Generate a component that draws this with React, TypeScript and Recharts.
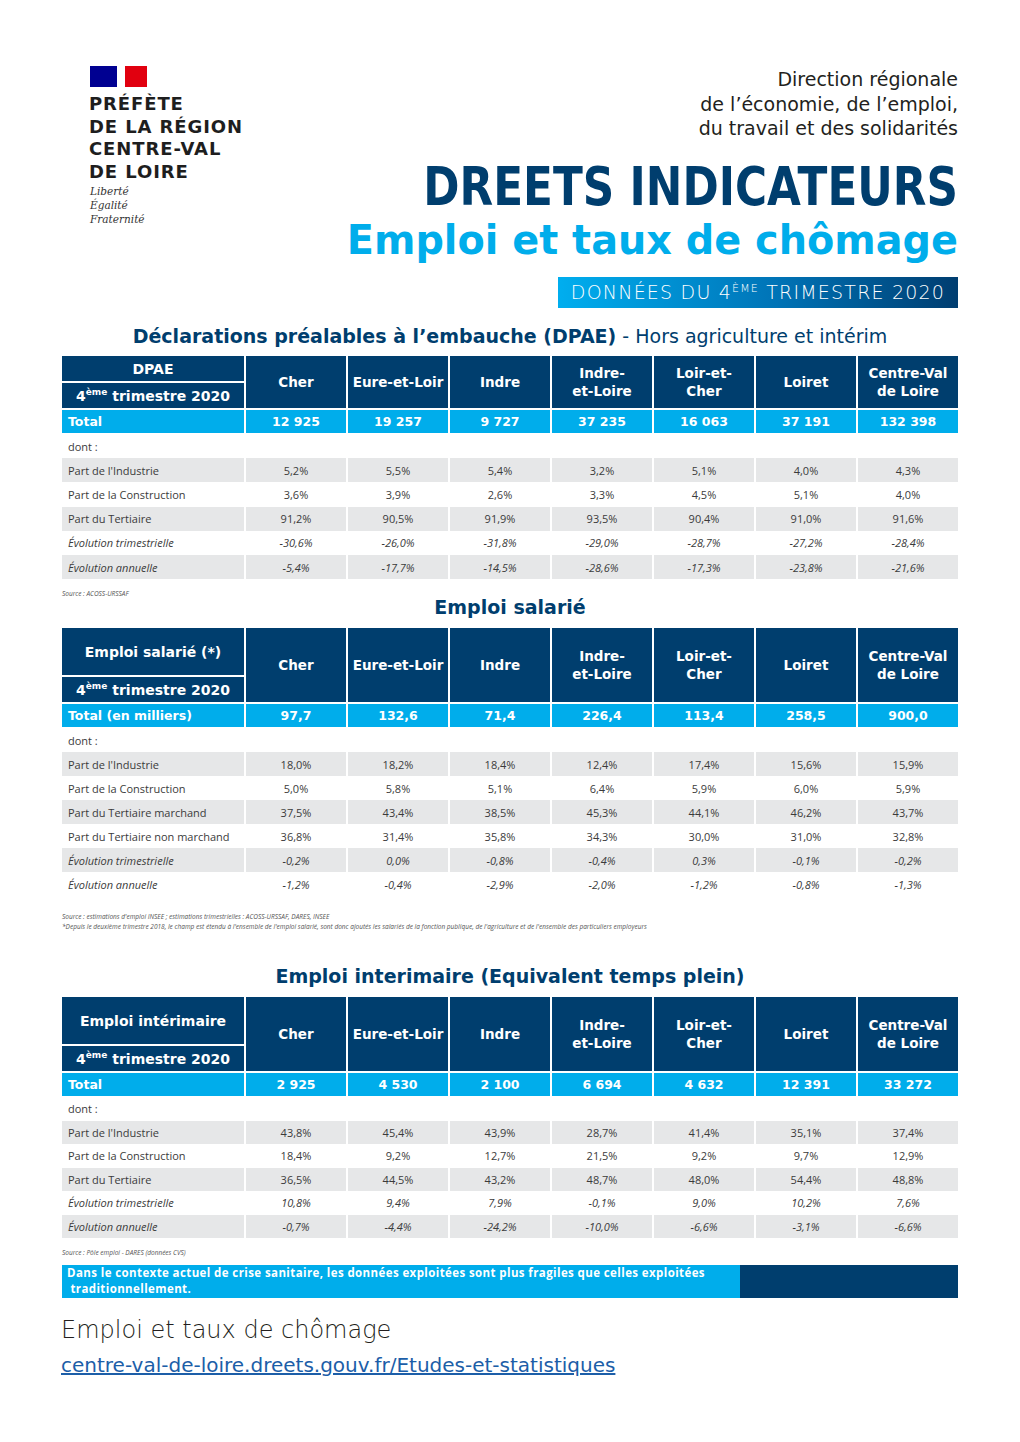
import { Surface, Rectangle } from "recharts";

// Départements (colonnes)
const departements = [
  "Cher",
  "Eure-et-Loir",
  "Indre",
  "Indre-\net-Loire",
  "Loir-et-\nCher",
  "Loiret",
  "Centre-Val\nde Loire",
];

// DPAE
const dpaeTotal = ["12 925", "19 257", "9 727", "37 235", "16 063", "37 191", "132 398"];
const dpaeIndustrie = ["5,2%", "5,5%", "5,4%", "3,2%", "5,1%", "4,0%", "4,3%"];
const dpaeConstruction = ["3,6%", "3,9%", "2,6%", "3,3%", "4,5%", "5,1%", "4,0%"];
const dpaeTertiaire = ["91,2%", "90,5%", "91,9%", "93,5%", "90,4%", "91,0%", "91,6%"];
const dpaeEvolTrim = ["-30,6%", "-26,0%", "-31,8%", "-29,0%", "-28,7%", "-27,2%", "-28,4%"];
const dpaeEvolAnn = ["-5,4%", "-17,7%", "-14,5%", "-28,6%", "-17,3%", "-23,8%", "-21,6%"];

// Emploi salarié
const salTotal = ["97,7", "132,6", "71,4", "226,4", "113,4", "258,5", "900,0"];
const salIndustrie = ["18,0%", "18,2%", "18,4%", "12,4%", "17,4%", "15,6%", "15,9%"];
const salConstruction = ["5,0%", "5,8%", "5,1%", "6,4%", "5,9%", "6,0%", "5,9%"];
const salTertMarchand = ["37,5%", "43,4%", "38,5%", "45,3%", "44,1%", "46,2%", "43,7%"];
const salTertNonMarchand = ["36,8%", "31,4%", "35,8%", "34,3%", "30,0%", "31,0%", "32,8%"];
const salEvolTrim = ["-0,2%", "0,0%", "-0,8%", "-0,4%", "0,3%", "-0,1%", "-0,2%"];
const salEvolAnn = ["-1,2%", "-0,4%", "-2,9%", "-2,0%", "-1,2%", "-0,8%", "-1,3%"];

// Emploi intérimaire
const intTotal = ["2 925", "4 530", "2 100", "6 694", "4 632", "12 391", "33 272"];
const intIndustrie = ["43,8%", "45,4%", "43,9%", "28,7%", "41,4%", "35,1%", "37,4%"];
const intConstruction = ["18,4%", "9,2%", "12,7%", "21,5%", "9,2%", "9,7%", "12,9%"];
const intTertiaire = ["36,5%", "44,5%", "43,2%", "48,7%", "48,0%", "54,4%", "48,8%"];
const intEvolTrim = ["10,8%", "9,4%", "7,9%", "-0,1%", "9,0%", "10,2%", "7,6%"];
const intEvolAnn = ["-0,7%", "-4,4%", "-24,2%", "-10,0%", "-6,6%", "-3,1%", "-6,6%"];

const logoLines = ["PRÉFÈTE", "DE LA RÉGION", "CENTRE-VAL", "DE LOIRE"];
const deviseLines = ["Liberté", "Égalité", "Fraternité"];
const directionLines = [
  "Direction régionale",
  "de l’économie, de l’emploi,",
  "du travail et des solidarités",
];
const avertissement = [
  "Dans le contexte actuel de crise sanitaire, les données exploitées sont plus fragiles que celles exploitées",
  " traditionnellement.",
];

const NAVY = "#003e6e";
const CYAN = "#00adeb";
const GREY = "#e6e7e8";
const TXT = "#3b3b3b";
const HEAD_FONT = "'DejaVu Sans', sans-serif";
const BODY_FONT = "'Open Sans', sans-serif";

const LEFT = 62;
const LABEL_W = 182;
const COL_W = 100;
const GAP = 2;

type Row = { label: string; values?: string[]; italic?: boolean };

function colX(i: number) {
  return LABEL_W + GAP + i * (COL_W + GAP);
}

function Tableau(props: {
  top: number;
  title: string;
  titleH: number;
  headerH: number;
  totalLabel: string;
  totals: string[];
  rows: Row[];
  rowH: number;
}) {
  const { top, title, titleH, headerH, totalLabel, totals, rows, rowH } = props;
  const totalTop = headerH + GAP;
  const rowsTop = totalTop + 24;
  const cell: React.CSSProperties = {
    position: "absolute",
    display: "flex",
    alignItems: "center",
    justifyContent: "center",
    boxSizing: "border-box",
  };
  const headText: React.CSSProperties = {
    background: NAVY,
    color: "#fff",
    fontFamily: HEAD_FONT,
    fontWeight: 700,
    fontSize: 14,
  };
  return (
    <div style={{ position: "absolute", left: LEFT, top, width: 896 }}>
      {/* en-tête gauche */}
      <div style={{ ...cell, ...headText, left: 0, top: 0, width: LABEL_W, height: titleH }}>{title}</div>
      <div
        style={{
          ...cell,
          ...headText,
          left: 0,
          top: titleH + GAP,
          width: LABEL_W,
          height: headerH - titleH - GAP,
        }}
      >
        <span>
          4<sup style={{ fontSize: 9 }}>ème</sup> trimestre 2020
        </span>
      </div>
      {departements.map((d, i) => (
        <div
          key={d}
          style={{
            ...cell,
            ...headText,
            left: colX(i),
            top: 0,
            width: COL_W,
            height: headerH,
            fontSize: 13.5,
            lineHeight: "18px",
            textAlign: "center",
            whiteSpace: "pre-line",
          }}
        >
          {d}
        </div>
      ))}
      {/* ligne total */}
      <div
        style={{
          ...cell,
          justifyContent: "flex-start",
          paddingLeft: 6,
          left: 0,
          top: totalTop,
          width: LABEL_W,
          height: 23,
          background: CYAN,
          color: "#fff",
          fontFamily: HEAD_FONT,
          fontWeight: 700,
          fontSize: 12.5,
        }}
      >
        {totalLabel}
      </div>
      {totals.map((v, i) => (
        <div
          key={"t" + i}
          style={{
            ...cell,
            left: colX(i),
            top: totalTop,
            width: COL_W,
            height: 23,
            background: CYAN,
            color: "#fff",
            fontFamily: HEAD_FONT,
            fontWeight: 700,
            fontSize: 12.5,
          }}
        >
          {v}
        </div>
      ))}
      {/* lignes détail */}
      {rows.map((r, k) => {
        const y = rowsTop + k * rowH;
        const bg = k % 2 === 1 ? GREY : "#fff";
        const font: React.CSSProperties = {
          fontFamily: BODY_FONT,
          fontSize: 11,
          color: TXT,
          fontStyle: r.italic ? "italic" : "normal",
        };
        return (
          <div key={r.label}>
            <div
              style={{
                ...cell,
                ...font,
                justifyContent: "flex-start",
                paddingLeft: 6,
                left: 0,
                top: y,
                width: LABEL_W,
                height: rowH,
                background: bg,
              }}
            >
              {r.label}
            </div>
            {(r.values ?? departements.map(() => "")).map((v, i) => (
              <div
                key={i}
                style={{
                  ...cell,
                  ...font,
                  left: colX(i),
                  top: y,
                  width: COL_W,
                  height: rowH,
                  background: bg,
                }}
              >
                {v}
              </div>
            ))}
          </div>
        );
      })}
    </div>
  );
}

const dpaeRows: Row[] = [
  { label: "dont :" },
  { label: "Part de l'Industrie", values: dpaeIndustrie },
  { label: "Part de la Construction", values: dpaeConstruction },
  { label: "Part du Tertiaire", values: dpaeTertiaire },
  { label: "Évolution trimestrielle", values: dpaeEvolTrim, italic: true },
  { label: "Évolution annuelle", values: dpaeEvolAnn, italic: true },
];

const salRows: Row[] = [
  { label: "dont :" },
  { label: "Part de l'Industrie", values: salIndustrie },
  { label: "Part de la Construction", values: salConstruction },
  { label: "Part du Tertiaire marchand", values: salTertMarchand },
  { label: "Part du Tertiaire non marchand", values: salTertNonMarchand },
  { label: "Évolution trimestrielle", values: salEvolTrim, italic: true },
  { label: "Évolution annuelle", values: salEvolAnn, italic: true },
];

const intRows: Row[] = [
  { label: "dont :" },
  { label: "Part de l'Industrie", values: intIndustrie },
  { label: "Part de la Construction", values: intConstruction },
  { label: "Part du Tertiaire", values: intTertiaire },
  { label: "Évolution trimestrielle", values: intEvolTrim, italic: true },
  { label: "Évolution annuelle", values: intEvolAnn, italic: true },
];

const abs = (left: number, top: number, extra: React.CSSProperties = {}): React.CSSProperties => ({
  position: "absolute",
  left,
  top,
  ...extra,
});

const sourceStyle: React.CSSProperties = {
  fontFamily: BODY_FONT,
  fontStyle: "italic",
  fontSize: 6.5,
  color: "#555",
  whiteSpace: "nowrap",
};

const sectionTitle: React.CSSProperties = {
  fontFamily: HEAD_FONT,
  fontWeight: 700,
  fontSize: 19,
  color: NAVY,
  width: 1020,
  textAlign: "center",
  whiteSpace: "nowrap",
};

export default function App() {
  return (
    <div
      style={{
        position: "absolute",
        left: 0,
        top: 0,
        width: 1020,
        height: 1442,
        background: "#fff",
        overflow: "hidden",
      }}
    >
      {/* logo */}
      <div style={abs(90, 66)}>
        <Surface width={57} height={21} viewBox={{ x: 0, y: 0, width: 57, height: 21 }}>
          <Rectangle x={0} y={0} width={27} height={21} fill="#000091" />
          <Rectangle x={27} y={0} width={8} height={21} fill="#ffffff" />
          <Rectangle x={35} y={0} width={22} height={21} fill="#e1000f" />
        </Surface>
      </div>
      {logoLines.map((l, i) => (
        <div
          key={l}
          style={abs(89, 93 + i * 22.5, {
            fontFamily: "'DejaVu Sans', sans-serif",
            fontWeight: 700,
            fontSize: 18,
            lineHeight: "21px",
            letterSpacing: 0.9,
            color: "#1e1e1e",
            whiteSpace: "nowrap",
          })}
        >
          {l}
        </div>
      ))}
      {deviseLines.map((l, i) => (
        <div
          key={l}
          style={abs(90, 185 + i * 14, {
            fontFamily: "'DejaVu Serif', serif",
            fontStyle: "italic",
            fontSize: 10.5,
            lineHeight: "13px",
            color: "#333",
            whiteSpace: "nowrap",
          })}
        >
          {l}
        </div>
      ))}

      {/* en-tête droit */}
      {directionLines.map((l, i) => (
        <div
          key={l}
          style={abs(560, 68 + i * 24.5, {
            width: 398,
            textAlign: "right",
            fontFamily: "'DejaVu Sans', sans-serif",
            fontSize: 19,
            lineHeight: "23px",
            color: "#231f20",
            whiteSpace: "nowrap",
          })}
        >
          {l}
        </div>
      ))}
      <div
        style={abs(258, 156, {
          width: 700,
          textAlign: "right",
          fontFamily: HEAD_FONT,
          fontWeight: 700,
          fontSize: 54,
          lineHeight: "62px",
          color: NAVY,
          whiteSpace: "nowrap",
          transform: "scaleX(0.81)",
          transformOrigin: "right center",
        })}
      >
        DREETS INDICATEURS
      </div>
      <div
        style={abs(258, 213, {
          width: 700,
          textAlign: "right",
          fontFamily: HEAD_FONT,
          fontWeight: 700,
          fontSize: 41,
          lineHeight: "54px",
          color: CYAN,
          whiteSpace: "nowrap",
          transform: "scaleX(0.97)",
          transformOrigin: "right center",
        })}
      >
        Emploi et taux de chômage
      </div>
      <div
        style={abs(558, 277, {
          width: 400,
          height: 31,
          background: `linear-gradient(to right, #00aeef, #0073b6 55%, #003d70)`,
          color: "#fff",
          fontFamily: "'DejaVu Sans', sans-serif",
          fontWeight: 300,
          fontSize: 19,
          letterSpacing: 1.2,
          lineHeight: "31px",
          textAlign: "center",
          whiteSpace: "nowrap",
        })}
      >
        DONNÉES DU 4<sup style={{ fontSize: 11, lineHeight: 0 }}>ÈME</sup> TRIMESTRE 2020
      </div>

      {/* DPAE */}
      <div style={abs(0, 325, sectionTitle)}>
        Déclarations préalables à l’embauche (DPAE)
        <span style={{ fontWeight: 400 }}> - Hors agriculture et intérim</span>
      </div>
      <Tableau
        top={356}
        title="DPAE"
        titleH={25}
        headerH={52}
        totalLabel="Total"
        totals={dpaeTotal}
        rows={dpaeRows}
        rowH={24.2}
      />
      <div style={abs(62, 589, sourceStyle)}>Source : ACOSS-URSSAF</div>

      {/* Emploi salarié */}
      <div style={abs(0, 596, sectionTitle)}>Emploi salarié</div>
      <Tableau
        top={628}
        title="Emploi salarié (*)"
        titleH={47}
        headerH={74}
        totalLabel="Total (en milliers)"
        totals={salTotal}
        rows={salRows}
        rowH={24}
      />
      <div style={abs(62, 912, sourceStyle)}>
        Source : estimations d'emploi INSEE ; estimations trimestrielles : ACOSS-URSSAF, DARES, INSEE
      </div>
      <div style={abs(62, 922, sourceStyle)}>
        *Depuis le deuxième trimestre 2018, le champ est étendu à l'ensemble de l'emploi salarié, sont donc ajoutés les salariés de la
        fonction publique, de l'agriculture et de l'ensemble des particuliers employeurs
      </div>

      {/* Emploi intérimaire */}
      <div style={abs(0, 965, sectionTitle)}>Emploi interimaire (Equivalent temps plein)</div>
      <Tableau
        top={997}
        title="Emploi intérimaire"
        titleH={47}
        headerH={74}
        totalLabel="Total"
        totals={intTotal}
        rows={intRows}
        rowH={23.5}
      />
      <div style={abs(62, 1248, sourceStyle)}>Source : Pôle emploi - DARES (données CVS)</div>

      {/* encadré */}
      <div style={abs(62, 1265, { width: 678, height: 33, background: CYAN })} />
      <div style={abs(740, 1265, { width: 218, height: 33, background: NAVY })} />
      {avertissement.map((l, i) => (
        <div
          key={i}
          style={abs(67, 1265 + i * 16, {
            fontFamily: BODY_FONT,
            fontWeight: 700,
            fontSize: 11.5,
            letterSpacing: 0.4,
            lineHeight: "16px",
            color: "#fff",
            whiteSpace: "pre",
          })}
        >
          {l}
        </div>
      ))}

      {/* pied de page */}
      <div
        style={abs(61, 1316, {
          fontFamily: "'DejaVu Sans', sans-serif",
          fontWeight: 300,
          fontSize: 24,
          color: "#231f20",
          whiteSpace: "nowrap",
        })}
      >
        Emploi et taux de chômage
      </div>
      <div
        style={abs(61, 1353, {
          fontFamily: "'DejaVu Sans', sans-serif",
          fontSize: 20,
          color: "#1c5ea8",
          textDecoration: "underline",
          whiteSpace: "nowrap",
        })}
      >
        centre-val-de-loire.dreets.gouv.fr/Etudes-et-statistiques
      </div>
    </div>
  );
}
